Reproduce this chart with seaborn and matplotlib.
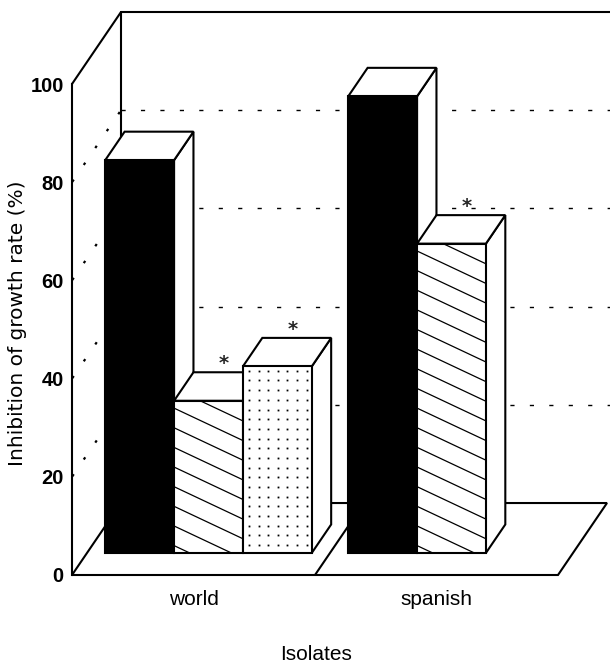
import numpy as np
import pandas as pd
import matplotlib
matplotlib.use("Agg")
import matplotlib.pyplot as plt
from matplotlib.patches import Polygon
import seaborn as sns

# values (percent inhibition)
groups = ["world", "spanish"]
treatments = ["solid", "striped", "dotted"]
world_vals = [80, 31, 38]
spanish_vals = [93, 63]
starred = [("world", "striped"), ("world", "dotted"), ("spanish", "striped")]
yticks = [0, 20, 40, 60, 80, 100]

rows = [{"isolate": "world", "treatment": t, "inhibition": v}
        for t, v in zip(treatments, world_vals)]
rows += [{"isolate": "spanish", "treatment": t, "inhibition": v}
         for t, v in zip(treatments, spanish_vals)]
df = pd.DataFrame(rows)

sns.set_theme(style="white")
plt.rcParams["font.family"] = ["DejaVu Sans"]
narrow = ["Liberation Sans", "DejaVu Sans"]

fig = plt.figure(figsize=(6.1, 6.65), dpi=100)
ax = fig.add_axes([72 / 610, 90 / 665, 538 / 610, 491 / 665])

sns.barplot(data=df, x="isolate", y="inhibition", hue="treatment",
            order=groups, hue_order=treatments,
            palette={"solid": "black", "striped": "white", "dotted": "white"},
            width=0.85, saturation=1, edgecolor="black", linewidth=1.5,
            errorbar=None, legend=False, ax=ax)

# oblique "3D" box: full depth vector, and where the bar slab sits in it
DX, DY = 0.2016, 14.66
T0, TB = 0.306, 0.396
XMIN, XMAX = -0.5, 1.714
XEND = len(groups) - 0.5
ax.set_xlim(XMIN, XMAX)
ax.set_ylim(0, 100)

lw = 1.5
wall = dict(color="black", lw=lw, clip_on=False, zorder=3)

# left wall + back wall + floor
ax.add_patch(Polygon([(XMIN, 0), (XMIN + DX, DY), (XMIN + DX, 100 + DY), (XMIN, 100)],
                     fc="white", ec="none", clip_on=False, zorder=1))
ax.plot([XMIN, XMIN + DX], [100, 100 + DY], **wall)
ax.plot([XMIN + DX, XMIN + DX], [DY, 100 + DY], **wall)
ax.plot([XMIN + DX, XMAX + 1], [100 + DY, 100 + DY], **wall)
for v in yticks[1:-1]:
    ax.plot([XMIN + DX, XMAX + 1], [v + DY, v + DY], color="black", lw=1,
            ls=(0, (3, 11)), clip_on=False, zorder=2)
    ax.plot([XMIN, XMIN + DX], [v, v + DY], color="black", lw=1.6,
            ls=(9, (1.2, 8)), clip_on=False, zorder=2)
ax.add_patch(Polygon([(XMIN, 0), (XEND, 0), (XEND + DX, DY), (XMIN + DX, DY)],
                     fc="white", ec="black", lw=lw, clip_on=False, zorder=4))
ax.plot([XMIN + 1, XMIN + 1 + DX], [0, DY], color="black", lw=lw,
        clip_on=False, zorder=5)

# collect bars with their group and treatment, draw left to right
bars = []
for level, cont in zip(treatments, ax.containers):
    for rect in cont:
        centre = rect.get_x() + rect.get_width() / 2
        bars.append((centre, rect, groups[int(round(centre))], level))
bars.sort(key=lambda b: b[0])

bx, by = TB * DX, TB * DY
slope = 23.3     # stripe slope in data units
sp = 4.0         # stripe spacing (y units)
for i, (_, rect, iso, level) in enumerate(bars):
    x0 = rect.get_x() + T0 * DX
    y0 = T0 * DY
    w, h = rect.get_width(), rect.get_height()
    rect.set_x(x0)
    rect.set_y(y0)
    z = 10 + 4 * i
    rect.set_zorder(z + 2)
    rect.set_clip_on(False)
    rect.set_linewidth(lw)
    ax.add_patch(Polygon([(x0 + w, y0), (x0 + w + bx, y0 + by),
                          (x0 + w + bx, y0 + h + by), (x0 + w, y0 + h)],
                         fc="white", ec="black", lw=lw, clip_on=False, zorder=z))
    ax.add_patch(Polygon([(x0, y0 + h), (x0 + w, y0 + h),
                          (x0 + w + bx, y0 + h + by), (x0 + bx, y0 + h + by)],
                         fc="white", ec="black", lw=lw, clip_on=False, zorder=z + 1))
    if level == "striped":
        for c in np.arange(y0 + 1.5, y0 + h + slope * w, sp):
            ln, = ax.plot([x0, x0 + w], [c, c - slope * w], color="black",
                          lw=0.9, zorder=z + 3)
            ln.set_clip_path(rect)
    elif level == "dotted":
        xs = np.arange(x0 + 0.025, x0 + w - 0.01, 0.0395)
        ys = np.arange(y0 + h - 0.9, y0, -1.97)
        gx, gy = np.meshgrid(xs, ys)
        ax.plot(gx.ravel(), gy.ravel(), ls="none", marker="s", ms=1.3,
                mew=0, color="black", zorder=z + 3, clip_on=False)
    if (iso, level) in starred:
        ax.text(x0 + w / 2 + bx * 0.8, y0 + h + by + 0.6, "*",
                ha="center", va="baseline", fontsize=14, fontweight="bold",
                zorder=60)

for s in ["top", "right", "bottom"]:
    ax.spines[s].set_visible(False)
ax.spines["left"].set_linewidth(lw)
ax.spines["left"].set_color("black")
ax.spines["left"].set_zorder(6)

ax.set_yticks(yticks)
ax.set_yticklabels([str(t) for t in yticks], family=narrow, fontsize=14.5,
                   fontweight="bold")
ax.tick_params(axis="y", direction="in", length=3, width=1, pad=6, colors="black")
ax.tick_params(axis="x", length=0, pad=11, colors="black")
for lab in ax.get_xticklabels():
    lab.set_family(narrow)
    lab.set_fontsize(15)

ax.set_ylabel("Inhibition of growth rate (%)", fontsize=14.5, color="black")
ax.yaxis.set_label_coords(-0.0836, 0.513)
ax.set_xlabel("Isolates", family=narrow, fontsize=15, color="black")
ax.xaxis.set_label_coords(0.4545, -0.142)
ax.xaxis.label.set_va("top")

fig.savefig("out.png", dpi=100)
